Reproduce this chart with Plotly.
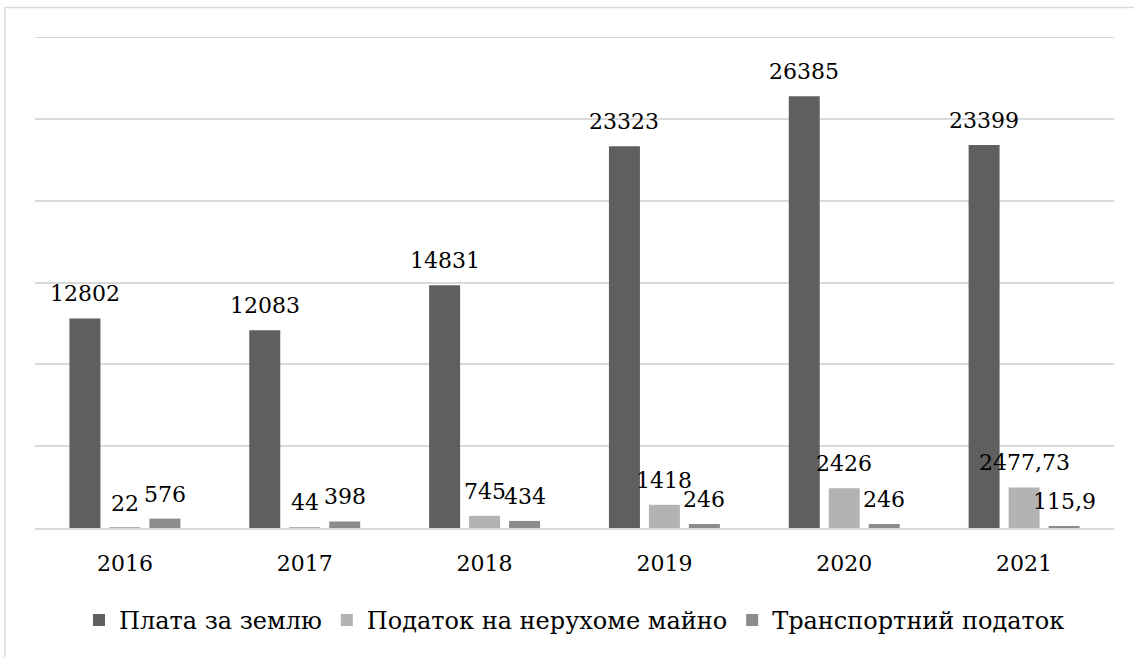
import plotly.graph_objects as go

years = ["2016", "2017", "2018", "2019", "2020", "2021"]
land_fee = [12802, 12083, 14831, 23323, 26385, 23399]
property_tax = [22, 44, 745, 1418, 2426, 2477.73]
transport_tax = [576, 398, 434, 246, 246, 115.9]

series_names = ["Плата за землю", "Податок на нерухоме майно", "Транспортний податок"]
series_values = [land_fee, property_tax, transport_tax]
series_colors = ["#5f5f5f", "#b3b3b3", "#8c8c8c"]

FONT = "DejaVu Serif"
FS = 22

W, H = 1134, 657
ML, MR, MT, MB = 35, 20, 37, 129
BARGAP = 0.333
BARGROUPGAP = 0.225

def fmt(v):
    s = ("%g" % v)
    return s.replace(".", ",")

fig = go.Figure()
for name, vals, col in zip(series_names, series_values, series_colors):
    fig.add_trace(go.Bar(
        x=years, y=vals, name=name,
        marker=dict(color=col, line=dict(width=0)),
        hoverinfo="x+y+name",
    ))

# data labels anchored to each bar's value (category index on the x axis),
# shifted to the bar's slot within its group
plot_w = W - ML - MR
n_cat = len(years)
n_ser = len(series_values)
slot_px = plot_w * (1 - BARGAP) / n_cat / n_ser
annotations = []
for i, vals in enumerate(series_values):
    for j, v in enumerate(vals):
        annotations.append(dict(
            x=j, y=v, xref="x", yref="y",
            text=fmt(v), showarrow=False,
            xanchor="center", yanchor="bottom",
            xshift=(i - (n_ser - 1) / 2) * slot_px,
            yshift=10,
            font=dict(family=FONT, size=FS, color="#000000"),
        ))

fig.update_layout(
    width=W, height=H,
    margin=dict(l=ML, r=MR, t=MT, b=MB),
    paper_bgcolor="white",
    plot_bgcolor="white",
    barmode="group",
    bargap=BARGAP,
    bargroupgap=BARGROUPGAP,
    font=dict(family=FONT, size=FS, color="#000000"),
    showlegend=True,
    legend=dict(
        orientation="h",
        x=0.5, xanchor="center",
        y=-0.188, yanchor="middle",
        font=dict(family=FONT, size=24, color="#000000"),
        itemclick=False,
    ),
    xaxis=dict(
        type="category",
        categoryorder="array", categoryarray=years,
        range=[-0.5, n_cat - 0.5],
        showgrid=False,
        showline=True, linecolor="#d9d9d9", linewidth=1.5,
        ticks="outside", ticklen=15, tickcolor="rgba(0,0,0,0)",
        tickfont=dict(family=FONT, size=FS, color="#000000"),
    ),
    yaxis=dict(
        range=[0, 30000],
        dtick=5000,
        showgrid=True, gridcolor="#d9d9d9", gridwidth=1.5,
        showticklabels=False,
        zeroline=False,
        ticks="",
    ),
    annotations=annotations,
    shapes=[
        dict(
            type="rect", xref="paper", yref="paper",
            x0=-0.0278, x1=1.2, y0=-0.5, y1=1.06,
            line=dict(color="#d9d9d9", width=1.5),
            fillcolor="rgba(0,0,0,0)",
            layer="below",
        ),
        dict(
            type="line", xref="paper", yref="y",
            x0=0, x1=1, y0=30000, y1=30000,
            line=dict(color="#d9d9d9", width=2),
            layer="below",
        ),
    ],
)

fig.write_html("out.html", config={"displayModeBar": False},
               post_script="document.body.style.margin='0px';document.body.style.overflow='hidden';")
